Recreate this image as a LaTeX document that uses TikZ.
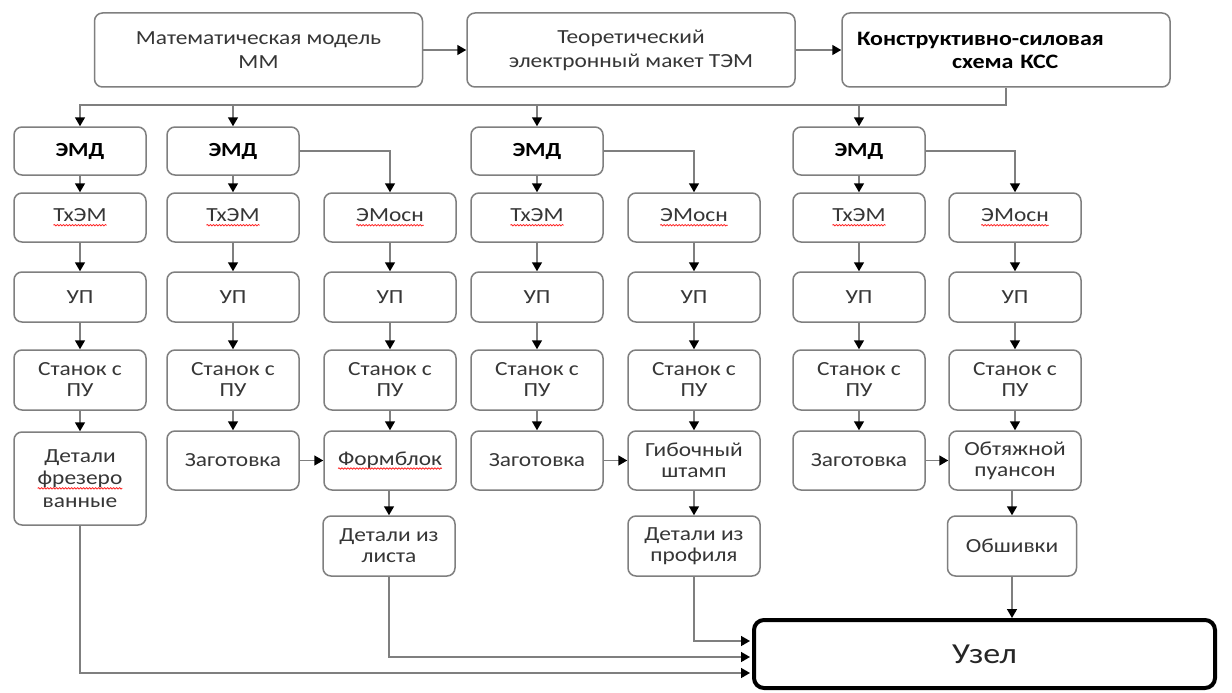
\documentclass[tikz,border=0pt]{standalone}
\usepackage{fontspec}
\setmainfont{Carlito}[FakeStretch=1.17]
\usetikzlibrary{arrows.meta,decorations.pathmorphing}
\definecolor{boxgray}{HTML}{7F7F7F}
\definecolor{txtgray}{HTML}{363636}
\newcommand\redwave[1]{\tikz[baseline=(w.base)]{\node[draw=none,fill=none,minimum width=0pt,minimum height=0pt,inner sep=0pt,outer sep=0pt,rounded corners=0pt] (w) {#1};
  \draw[red!85!white,line width=0.8pt,rounded corners=0pt,decorate,decoration={snake,amplitude=0.7pt,segment length=3pt}] ([yshift=-3.5pt]w.base west) -- ([yshift=-3.5pt]w.base east);}}
\tikzset{
  box/.style={draw=boxgray, line width=1.5pt, rounded corners=8pt, minimum width=132pt,
    align=center, text=txtgray, inner sep=1pt, font=\fontsize{20}{21}\selectfont},
  topbox/.style={box, minimum width=328pt, minimum height=74pt, font=\fontsize{20}{24}\selectfont},
  emd/.style={box, minimum height=48pt, text=black, font=\bfseries\fontsize{20}{21}\selectfont},
  rtwo/.style={box, minimum height=49pt},
  rthree/.style={box, minimum height=50pt},
  rfour/.style={box, minimum height=60pt},
  rfive/.style={box, minimum height=59pt},
  rsix/.style={box, minimum height=60pt},
  arr/.style={draw=boxgray, line width=1.5pt, -{Triangle[length=9pt,width=10pt,color=black]}},
}
\begin{document}
\begin{tikzpicture}[x=1pt,y=-1pt]
\useasboundingbox (0,0) rectangle (1232,693);
\fill[white] (0,0) rectangle (1232,693);
% top row
\node[topbox] (mm) at (258.5,50) {Математическая модель\\ММ};
\node[topbox] (tem) at (631,50) {Теоретический\\электронный макет ТЭМ};
\node[topbox, text width=298pt, inner xsep=15pt, align=left, text=black,
  font=\bfseries\fontsize{20.5}{23}\selectfont] (kss) at (1006,50)
  {Конструктивно-силовая\\\hspace*{95pt}схема КСС};
% row 1
\node[emd] (e1) at (80,151) {ЭМД};
\node[emd] (e2) at (233,151) {ЭМД};
\node[emd] (e4) at (537,151) {ЭМД};
\node[emd] (e6) at (859,151) {ЭМД};
% row 2
\node[rtwo] (t1) at (80,217.5) {\redwave{ТхЭМ}};
\node[rtwo] (t2) at (233,217.5) {\redwave{ТхЭМ}};
\node[rtwo] (m3) at (390,217.5) {\redwave{ЭМосн}};
\node[rtwo] (t4) at (537,217.5) {\redwave{ТхЭМ}};
\node[rtwo] (m5) at (694,217.5) {\redwave{ЭМосн}};
\node[rtwo] (t6) at (859,217.5) {\redwave{ТхЭМ}};
\node[rtwo] (m7) at (1015,217.5) {\redwave{ЭМосн}};
% row 3
\node[rthree] (u1) at (80,297) {УП};
\node[rthree] (u2) at (233,297) {УП};
\node[rthree] (u3) at (390,297) {УП};
\node[rthree] (u4) at (537,297) {УП};
\node[rthree] (u5) at (694,297) {УП};
\node[rthree] (u6) at (859,297) {УП};
\node[rthree] (u7) at (1015,297) {УП};
% row 4
\node[rfour] (s1) at (80,380) {Станок с\\ПУ};
\node[rfour] (s2) at (233,380) {Станок с\\ПУ};
\node[rfour] (s3) at (390,380) {Станок с\\ПУ};
\node[rfour] (s4) at (537,380) {Станок с\\ПУ};
\node[rfour] (s5) at (694,380) {Станок с\\ПУ};
\node[rfour] (s6) at (859,380) {Станок с\\ПУ};
\node[rfour] (s7) at (1015,380) {Станок с\\ПУ};
% row 5
\node[box, minimum height=93pt, font=\fontsize{20}{22.5}\selectfont] (d1) at (80,478.5) {Детали\\\redwave{фрезеро}\\ванные};
\node[rfive] (z2) at (233,460.5) {Заготовка};
\node[rfive] (f3) at (390,460.5) {\redwave{Формблок}};
\node[rfive] (z4) at (537,460.5) {Заготовка};
\node[rfive] (g5) at (694,460.5) {Гибочный\\штамп};
\node[rfive] (z6) at (859,460.5) {Заготовка};
\node[rfive] (o7) at (1015,460.5) {Обтяжной\\пуансон};
% row 6
\node[rsix] (l3) at (389,546) {Детали из\\листа};
\node[rsix] (p5) at (694,546) {Детали из\\профиля};
\node[rsix, minimum width=129pt] (ob7) at (1012,546) {Обшивки};
% final
\node[draw=black, line width=4pt, rounded corners=10pt, minimum width=461pt, minimum height=68pt,
  text=black!85, font=\fontsize{29}{32}\selectfont] (uzel) at (984.5,654) {Узел};
% connectors top
\draw[arr] (mm) -- (tem);
\draw[arr] (tem) -- (kss);
\coordinate (busL) at (80,105);
\draw[arr] (kss.south) |- (busL) -- (e1.north);
\foreach \n in {e2,e4,e6} { \draw[arr] (\n.north |- busL) -- (\n.north); }
% columns
\draw[arr] (e1) -- (t1);
\draw[arr] (t1) -- (u1);
\draw[arr] (u1) -- (s1);
\draw[arr] (s1.south) -- (d1.north);
\draw[arr] (e2) -- (t2);
\draw[arr] (t2) -- (u2);
\draw[arr] (u2) -- (s2);
\draw[arr] (s2) -- (z2);
\draw[arr] (e2.east) -| (m3.north);
\draw[arr] (m3) -- (u3);
\draw[arr] (u3) -- (s3);
\draw[arr] (s3) -- (f3);
\draw[arr] (z2) -- (f3);
\draw[arr] (f3.south -| l3.north) -- (l3.north);
\draw[arr] (e4) -- (t4);
\draw[arr] (t4) -- (u4);
\draw[arr] (u4) -- (s4);
\draw[arr] (s4) -- (z4);
\draw[arr] (e4.east) -| (m5.north);
\draw[arr] (m5) -- (u5);
\draw[arr] (u5) -- (s5);
\draw[arr] (s5) -- (g5);
\draw[arr] (z4) -- (g5);
\draw[arr] (g5) -- (p5);
\draw[arr] (e6) -- (t6);
\draw[arr] (t6) -- (u6);
\draw[arr] (u6) -- (s6);
\draw[arr] (s6) -- (z6);
\draw[arr] (e6.east) -| (m7.north);
\draw[arr] (m7) -- (u7);
\draw[arr] (u7) -- (s7);
\draw[arr] (s7) -- (o7);
\draw[arr] (z6) -- (o7);
\draw[arr] (o7.south -| ob7.north) -- (ob7.north);
% to Uzel
\draw[arr] (ob7.south) -- (ob7.south |- uzel.north);
\draw[arr] (p5.south) |- ([xshift=-2pt,yshift=13pt]uzel.west);
\draw[arr] (l3.south) |- ([xshift=-2pt,yshift=-3pt]uzel.west);
\draw[arr] (d1.south) |- ([xshift=-2pt,yshift=-19pt]uzel.west);
\end{tikzpicture}
\end{document}
